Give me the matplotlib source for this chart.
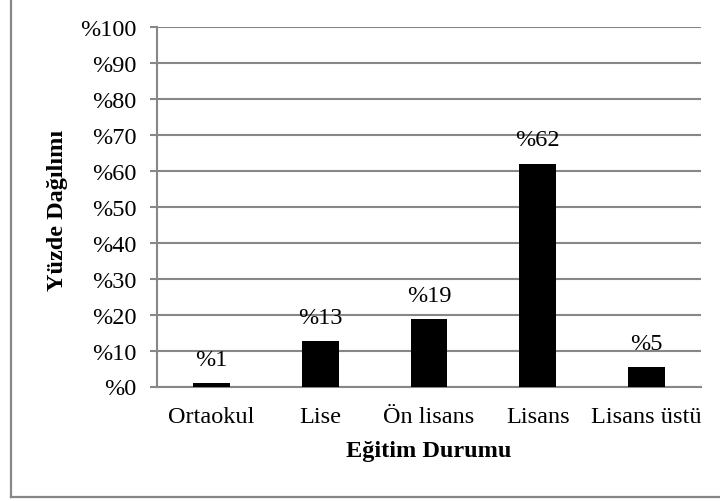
import matplotlib
matplotlib.use("Agg")
import matplotlib.pyplot as plt
from matplotlib.lines import Line2D

categories = ["Ortaokul", "Lise", "Ön lisans", "Lisans", "Lisans üstü"]
values = [0.9, 12.6, 18.7, 62.0, 5.4]
labels = ["%1", "%13", "%19", "%62", "%5"]
yticks = [0, 10, 20, 30, 40, 50, 60, 70, 80, 90, 100]
ytick_labels = ["%" + str(v) for v in yticks]

plt.rcParams['font.family'] = ['Liberation Serif', 'DejaVu Serif']
FS = 17.5
W, H = 720, 502
fig = plt.figure(figsize=(W / 100, H / 100), dpi=100)
ax = fig.add_axes([157 / W, 1 - 387.5 / H, (701 - 157) / W, (387.5 - 28) / H])

gray = "#878787"
x = list(range(len(categories)))
ax.bar(x, values, width=0.34, color="black", zorder=3)
for xi, v, lab in zip(x, values, labels):
    ax.annotate(lab, (xi, v), xytext=(0, 24), textcoords="offset pixels",
                ha="center", va="center", fontsize=FS, zorder=4)

ax.set_xlim(-0.5, len(categories) - 0.5)
ax.set_ylim(0, 100)
ax.set_yticks(yticks)
ax.set_yticklabels(ytick_labels, fontsize=FS)
ax.set_xticks(x)
ax.set_xticklabels(categories, fontsize=FS)
ax.yaxis.grid(True, color=gray, linewidth=1.5, zorder=0)
ax.set_axisbelow(True)
for s in ["top", "right"]:
    ax.spines[s].set_visible(False)
for s in ["left", "bottom"]:
    ax.spines[s].set_color(gray)
    ax.spines[s].set_linewidth(1.5)
ax.tick_params(axis="y", length=5, width=1.5, color=gray, pad=10)
ax.tick_params(axis="x", length=0, pad=14)

fig.text(58 / W, 1 - 210 / H, "Yüzde Dağılımı", rotation=90, ha="center", va="center",
         fontsize=FS, fontweight="bold")
fig.text(429 / W, 1 - 452 / H, "Eğitim Durumu", ha="center", va="center",
         fontsize=FS, fontweight="bold")

fig.add_artist(Line2D([11 / W, 11 / W], [1.0, 1 - 498 / H], transform=fig.transFigure,
                      color=gray, linewidth=1.6))
fig.add_artist(Line2D([11 / W, 1.0], [1 - 498 / H, 1 - 498 / H], transform=fig.transFigure,
                      color=gray, linewidth=1.6))

fig.savefig("out.png", dpi=100)
